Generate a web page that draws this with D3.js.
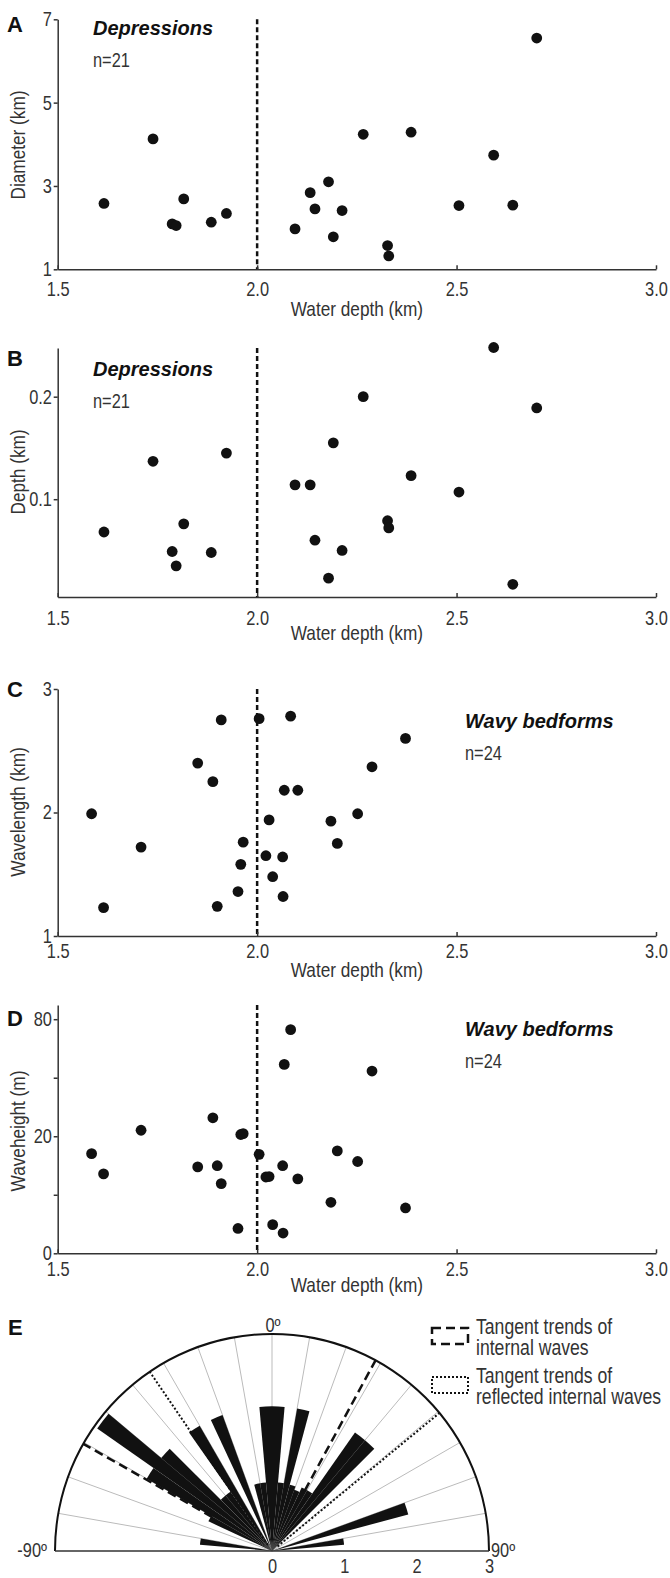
<!DOCTYPE html>
<html>
<head>
<meta charset="utf-8">
<script src="https://cdn.jsdelivr.net/npm/d3@7"></script>
<style>
body { margin: 0; background: #fff; }
text { font-family: 'Liberation Sans', Arial, sans-serif; fill: #333; }
.bold { font-weight: bold; fill: #111; }
</style>
</head>
<body>
<script>
// water depth ticks, shared by the 4 scatter panels
var depthTicks = [1.5, 2.0, 2.5, 3.0];

// depressions (A, B)
var depX = [1.616,1.739,1.787,1.797,1.816,1.885,1.923,2.095,2.133,2.145,2.179,2.191,2.213,2.266,2.327,2.330,2.386,2.506,2.593,2.641,2.701];
var depDiameter = [2.58,4.13,2.09,2.05,2.69,2.13,2.34,1.97,2.84,2.45,3.10,1.78,2.41,4.24,1.57,1.32,4.29,2.53,3.74,2.54,6.55];
var depDepth = [0.068,0.137,0.049,0.035,0.076,0.048,0.145,0.114,0.114,0.060,0.023,0.155,0.050,0.200,0.079,0.072,0.123,0.107,0.248,0.017,0.189];

// wavy bedforms (C, D)
var wavyX = [1.585,1.615,1.709,1.851,1.889,1.900,1.910,1.952,1.959,1.965,2.005,2.022,2.030,2.039,2.064,2.065,2.068,2.084,2.102,2.185,2.201,2.252,2.288,2.372];
var wavyLength = [1.99,1.23,1.72,2.40,2.25,1.24,2.75,1.36,1.58,1.76,2.76,1.65,1.94,1.48,1.64,1.32,2.18,2.78,2.18,1.93,1.75,1.99,2.37,2.60];
var wavyHeight = [14.5,9.2,22.1,10.9,26.8,11.2,7.1,0.9,20.6,20.9,14.3,8.5,8.6,1.2,11.2,0.6,52.1,73.0,8.1,3.8,15.3,12.3,48.5,3.0];

// rose diagram (E): 5 degree bins, start angle and length
var roseStart = [-85,-65,-60,-55,-50,-45,-40,-35,-25,-15,-10,-5,0,5,10,15,20,25,30,35,40,70,80];
var roseValue = [1.0,0.97,2.0,2.95,2.0,1.0,1.0,2.0,2.0,0.95,0.95,2.0,2.0,0.95,2.0,0.95,0.9,0.97,0.97,2.0,2.0,1.95,1.0];
var roseTicks = [0, 1, 2, 3];
var internalWaves = [-60.4, 28.5];
var reflectedWaves = [-34.3, 50.5];

var SX = 0.82; // narrow look of the original lettering

var svg = d3.select("body").append("svg").attr("width", 670).attr("height", 1578);

// plain text squeezed horizontally
function label(parent, x, y, str, size, anchor, rot) {
    return parent.append("text")
        .attr("transform", "translate(" + x + "," + y + ")" + (rot ? " rotate(" + rot + ")" : "") + " scale(" + SX + ",1)")
        .attr("text-anchor", anchor || "start").style("font-size", size + "px").text(str);
}

var x = d3.scaleLinear().domain([1.5, 3.0]).range([57.7, 656]);

function scatter(p) {
    var g = svg.append("g");
    var y = (p.sqrt ? d3.scaleSqrt() : d3.scaleLinear()).domain(p.yDomain).range(p.yRange);
    var y0 = p.yRange[0], y1 = p.yRange[1];

    // dashed line at 2 km
    g.append("line").attr("x1", x(2)).attr("x2", x(2)).attr("y1", y1).attr("y2", y0)
        .attr("stroke", "#111").attr("stroke-width", 2.5).attr("stroke-dasharray", "5,3");

    var ax = g.append("g").attr("transform", "translate(0," + y0 + ")")
        .call(d3.axisBottom(x).tickValues(depthTicks).tickFormat(d3.format(".1f")).tickSize(-4).tickSizeOuter(0).tickPadding(p.xPad));
    var ay = g.append("g").attr("transform", "translate(" + x(1.5) + ",0)")
        .call(d3.axisLeft(y).tickValues(p.yTicks).tickFormat(p.yFmt).tickSize(4).tickSizeOuter(0).tickPadding(3));
    [ax, ay].forEach(function(a) {
        a.selectAll("path, line").attr("stroke", "#333").attr("stroke-width", 1.5);
        a.selectAll("text").style("font-size", "20px").attr("fill", "#333").attr("transform", "scale(" + SX + ",1)");
    });

    g.selectAll("circle").data(p.xs).enter().append("circle")
        .attr("cx", function(d) { return x(d); })
        .attr("cy", function(d, i) { return y(p.ys[i]); })
        .attr("r", 5.4).attr("fill", "#111");

    label(g, x(2.25), p.titleY, "Water depth (km)", 21, "middle");
    label(g, 18, p.yTitleC, p.yTitle, 21, "middle", -90).attr("dy", "0.35em");
    g.append("text").attr("class", "bold").attr("x", 7).attr("y", p.letterY).style("font-size", "22px").text(p.letter);
    g.append("text").attr("class", "bold").attr("x", p.nameX).attr("y", p.nameY)
        .style("font-size", "20px").style("font-style", "italic").text(p.name);
    label(g, p.nameX, p.nameY + 32, p.n, 20);
}

scatter({ xs: depX, ys: depDiameter, yDomain: [1, 7], yRange: [269.3, 19.3], yTicks: [1, 3, 5, 7], yFmt: d3.format("d"),
    xPad: 13, titleY: 316, yTitle: "Diameter (km)", yTitleC: 145, letter: "A", letterY: 32,
    name: "Depressions", n: "n=21", nameX: 93, nameY: 35 });
scatter({ xs: depX, ys: depDepth, yDomain: [0.0046, 0.2475], yRange: [597, 348], yTicks: [0.1, 0.2], yFmt: d3.format(".1f"),
    xPad: 13.5, titleY: 640, yTitle: "Depth (km)", yTitleC: 472, letter: "B", letterY: 366,
    name: "Depressions", n: "n=21", nameX: 93, nameY: 376 });
scatter({ xs: wavyX, ys: wavyLength, yDomain: [1, 3], yRange: [936, 689], yTicks: [1, 2, 3], yFmt: d3.format("d"),
    xPad: 8, titleY: 977, yTitle: "Wavelength (km)", yTitleC: 812, letter: "C", letterY: 697,
    name: "Wavy bedforms", n: "n=24", nameX: 465, nameY: 728 });
scatter({ xs: wavyX, ys: wavyHeight, sqrt: true, yDomain: [0, 90], yRange: [1253.3, 1005], yTicks: [0, 5, 20, 45, 80],
    yFmt: function(d) { return (d === 0 || d === 20 || d === 80) ? d : ""; },
    xPad: 9, titleY: 1292, yTitle: "Waveheight (m)", yTitleC: 1131, letter: "D", letterY: 1026,
    name: "Wavy bedforms", n: "n=24", nameX: 465, nameY: 1036 });

// ---- rose diagram ----
var cx = 272, cy = 1551, R = 217;
var r = d3.scaleLinear().domain([0, 3]).range([0, R]);
var rad = function(a) { return a * Math.PI / 180; };
var rose = svg.append("g").attr("transform", "translate(" + cx + "," + cy + ")");

// grey spokes every 10 degrees
rose.selectAll(".spoke").data(d3.range(-80, 81, 10)).enter().append("line")
    .attr("x1", 0).attr("y1", 0)
    .attr("x2", function(d) { return r(3) * Math.sin(rad(d)); })
    .attr("y2", function(d) { return -r(3) * Math.cos(rad(d)); })
    .attr("stroke", "#bbb").attr("stroke-width", 1);

var arc = d3.arc().innerRadius(0);
rose.selectAll(".petal").data(roseStart).enter().append("path")
    .attr("d", function(d, i) { return arc({ outerRadius: r(roseValue[i]), startAngle: rad(d), endAngle: rad(d + 5) }); })
    .attr("fill", "#111");

function waveLine(angles, dash, w, r0) {
    angles.forEach(function(a) {
        var s = Math.sin(rad(a)), c = Math.cos(rad(a));
        rose.append("line").attr("x1", r(r0) * s).attr("y1", -r(r0) * c).attr("x2", r(3) * s).attr("y2", -r(3) * c)
            .attr("stroke", "#111").attr("stroke-width", w).attr("stroke-dasharray", dash);
    });
}
waveLine(internalWaves, "9,5", 2.5, 0.95);
waveLine(reflectedWaves, "2,2", 2, 0.1);

// outer semicircle and base line
rose.append("path").attr("d", d3.arc()({ innerRadius: R - 1, outerRadius: R + 1, startAngle: rad(-90), endAngle: rad(90) }))
    .attr("fill", "#111");
rose.append("line").attr("x1", -R).attr("x2", R).attr("y1", 0).attr("y2", 0).attr("stroke", "#333").attr("stroke-width", 1.5);

rose.append("g").call(d3.axisBottom(r).tickValues(roseTicks).tickFormat(d3.format("d")).tickSize(0).tickPadding(8))
    .call(function(a) {
        a.select(".domain").remove();
        a.selectAll("text").style("font-size", "20px").attr("fill", "#333").attr("transform", "scale(" + SX + ",1)");
    });

label(svg, cx + 1, 1332, "0º", 20, "middle");
label(svg, 47, 1557, "-90º", 20, "end");
label(svg, 491, 1557, "90º", 20);
svg.append("text").attr("class", "bold").attr("x", 8).attr("y", 1335).style("font-size", "22px").text("E");

// legend
var legend = [
    { dash: "9,5", w: 2.5, y: 1328, lines: ["Tangent trends of", "internal waves"] },
    { dash: "2,2", w: 2, y: 1377, lines: ["Tangent trends of", "reflected internal waves"] }
];
legend.forEach(function(l) {
    svg.append("rect").attr("x", 432).attr("y", l.y).attr("width", 36).attr("height", 16)
        .attr("fill", "none").attr("stroke", "#111").attr("stroke-width", l.w).attr("stroke-dasharray", l.dash);
    l.lines.forEach(function(t, i) {
        label(svg, 476, l.y + 6 + i * 21, t, 21.5);
    });
});
</script>
</body>
</html>
